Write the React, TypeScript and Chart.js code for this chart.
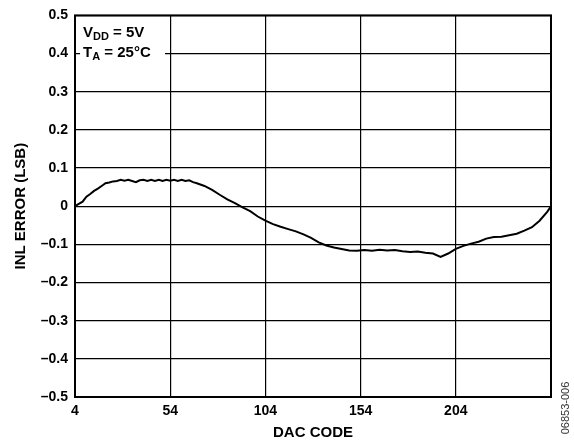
import React, { useEffect, useRef } from "react";
import { Chart, registerables } from "chart.js";

Chart.register(...registerables);

const dacCodes = [
  4, 6, 8, 10, 12, 14, 16, 18, 20, 22, 24, 26, 28, 30, 32, 34, 36, 38, 40, 42,
  44, 46, 48, 50, 52, 54, 56, 58, 60, 62, 64, 66, 68, 72, 76, 80, 84, 88, 92,
  96, 100, 104, 108, 112, 116, 120, 124, 128, 132, 136, 140, 144, 148, 152,
  156, 160, 164, 168, 172, 176, 180, 184, 188, 192, 196, 200, 204, 208, 212,
  216, 220, 224, 228, 232, 236, 240, 244, 248, 252, 254,
];
const inlError = [
  0, 0.006, 0.012, 0.025, 0.032, 0.04, 0.046, 0.053, 0.06, 0.062, 0.065, 0.066,
  0.069, 0.067, 0.069, 0.066, 0.063, 0.068, 0.069, 0.066, 0.069, 0.066, 0.069,
  0.066, 0.069, 0.067, 0.069, 0.066, 0.069, 0.066, 0.068, 0.063, 0.06, 0.053,
  0.043, 0.03, 0.018, 0.008, -0.003, -0.013, -0.027, -0.038, -0.047, -0.054,
  -0.06, -0.066, -0.074, -0.083, -0.095, -0.103, -0.108, -0.112, -0.116,
  -0.117, -0.115, -0.117, -0.114, -0.116, -0.115, -0.118, -0.12, -0.119,
  -0.122, -0.124, -0.133, -0.124, -0.112, -0.104, -0.098, -0.093, -0.085,
  -0.081, -0.08, -0.076, -0.072, -0.064, -0.055, -0.038, -0.015, 0,
];
const xTickLabels = ["4", "54", "104", "154", "204"];
const xTitle = "DAC CODE";
const yTitle = "INL ERROR (LSB)";
const figureId = "06853-006";

const FONT = "'Liberation Sans', Arial, sans-serif";

const overlayPlugin = {
  id: "overlay",
  afterDraw(chart: any) {
    const { ctx, chartArea } = chart;
    const { left, top, right, bottom } = chartArea;
    ctx.save();
    ctx.fillStyle = "#fff";
    ctx.fillRect(80, 17, 85, 45);
    ctx.fillStyle = "#000";
    ctx.textBaseline = "alphabetic";
    ctx.textAlign = "left";
    const drawSub = (main: string, sub: string, rest: string, x: number, y: number) => {
      ctx.font = `bold 15px ${FONT}`;
      ctx.fillText(main, x, y);
      let w = ctx.measureText(main).width;
      ctx.font = `bold 11px ${FONT}`;
      ctx.fillText(sub, x + w, y + 3);
      w += ctx.measureText(sub).width;
      ctx.font = `bold 15px ${FONT}`;
      ctx.fillText(rest, x + w, y);
    };
    drawSub("V", "DD", " = 5V", 83, 37);
    drawSub("T", "A", " = 25°C", 83, 57);
    ctx.strokeStyle = "#000";
    ctx.lineWidth = 2;
    ctx.strokeRect(left, top, right - left, bottom - top);
    ctx.translate(566, 408);
    ctx.rotate(-Math.PI / 2);
    ctx.font = `11px ${FONT}`;
    ctx.fillStyle = "#333";
    ctx.textAlign = "center";
    ctx.textBaseline = "middle";
    ctx.fillText(figureId, 0, 0);
    ctx.restore();
  },
};

export default function App() {
  const ref = useRef<HTMLCanvasElement>(null);
  useEffect(() => {
    if (!ref.current) return;
    const chart = new Chart(ref.current, {
      type: "line",
      data: {
        datasets: [
          {
            data: dacCodes.map((c, i) => ({ x: c, y: inlError[i] })),
            borderColor: "#000",
            borderWidth: 2,
            pointRadius: 0,
            tension: 0,
            fill: false,
          },
        ],
      },
      options: {
        animation: false,
        responsive: false,
        layout: { padding: { left: 0, top: 14, right: 23, bottom: 0 } },
        plugins: { legend: { display: false }, tooltip: { enabled: false } },
        scales: {
          x: {
            type: "linear",
            min: 4,
            max: 254,
            afterBuildTicks: (s: any) => {
              s.ticks = [4, 54, 104, 154, 204, 254].map((v) => ({ value: v }));
            },
            afterFit: (s: any) => {
              s.height = 48;
            },
            ticks: {
              autoSkip: false,
              maxRotation: 0,
              padding: 6,
              color: "#000",
              font: { family: FONT, size: 14, weight: "bold" },
              callback: (v: any, i: number) => xTickLabels[i] ?? "",
            },
            grid: { color: "#000", lineWidth: 1.2, drawTicks: false },
            border: { display: false },
            title: {
              display: true,
              text: xTitle,
              color: "#000",
              font: { family: FONT, size: 15, weight: "bold" },
              padding: { top: 0, bottom: 3 },
            },
          },
          y: {
            min: -0.5,
            max: 0.5,
            afterBuildTicks: (s: any) => {
              const t = [];
              for (let k = -5; k <= 5; k++) t.push({ value: k / 10 });
              s.ticks = t;
            },
            afterFit: (s: any) => {
              s.width = 75;
            },
            ticks: {
              autoSkip: false,
              padding: 7,
              color: "#000",
              font: { family: FONT, size: 14, weight: "bold" },
              callback: (v: any) => {
                const n = Math.round(Number(v) * 10) / 10;
                if (n === 0) return "0";
                return n < 0 ? "\u2013" + Math.abs(n).toFixed(1) : n.toFixed(1);
              },
            },
            grid: { color: "#000", lineWidth: 1.2, drawTicks: false },
            border: { display: false },
            title: {
              display: true,
              text: yTitle,
              color: "#000",
              font: { family: FONT, size: 15, weight: "bold" },
              padding: { top: 12, bottom: 0 },
            },
          },
        },
      },
      plugins: [overlayPlugin],
    } as any);
    return () => chart.destroy();
  }, []);
  return (
    <div style={{ position: "fixed", left: 0, top: 0, width: 574, height: 445, background: "#fff" }}>
      <canvas ref={ref} width={574} height={445} style={{ width: 574, height: 445 }} />
    </div>
  );
}
